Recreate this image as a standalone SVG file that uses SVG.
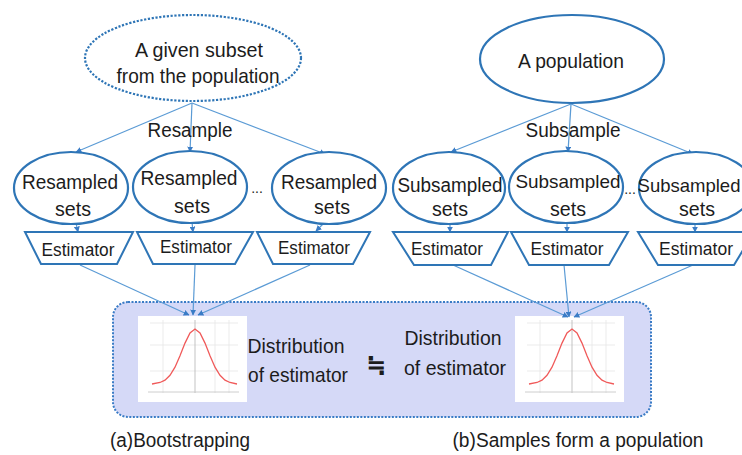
<svg xmlns="http://www.w3.org/2000/svg" width="742" height="455" viewBox="0 0 742 455">
<defs>
<style>
.t{font-family:"Liberation Sans",Arial,sans-serif;fill:#1c1c1c;text-anchor:middle;}
.big{font-size:21px;}
.mid{font-size:20px;}
.est{font-size:19px;}
.node{fill:#ffffff;stroke:#2e75b6;stroke-width:2.2;}
.dash{stroke-dasharray:2.2 1.6;}
.trap{fill:#ffffff;stroke:#2e75b6;stroke-width:2;stroke-linejoin:miter;}
.c{fill:none;stroke:#5b9bd5;stroke-width:1.2;marker-end:url(#ah);}
.grid{stroke:#e6e6e6;stroke-width:0.8;fill:none;}
</style>
<marker id="ah" viewBox="0 0 10 10" refX="9" refY="5" markerWidth="6" markerHeight="6" markerUnits="userSpaceOnUse" orient="auto">
<path d="M0,0 L10,5 L0,10 z" fill="#3a7cc6"/>
</marker>
<g id="chart">
<rect x="138" y="316" width="109" height="86" fill="#ffffff"/>
<line class="grid" x1="150" y1="323" x2="238" y2="323"/>
<line class="grid" x1="150" y1="345" x2="238" y2="345"/>
<line class="grid" x1="150" y1="371" x2="238" y2="371"/>
<line class="grid" x1="163" y1="320" x2="163" y2="393"/>
<line class="grid" x1="215" y1="320" x2="215" y2="393"/>
<line class="grid" x1="229" y1="320" x2="229" y2="393"/>
<line x1="195" y1="320" x2="195" y2="393" stroke="#bcbcbc" stroke-width="0.9"/>
<line x1="148" y1="392" x2="239" y2="392" stroke="#c8c8c8" stroke-width="0.9"/>
<polyline fill="none" stroke="#f05a5a" stroke-width="1.3" points="152,384 160,382.5 165,380.2 170,375.3 175,367.2 180,355.7 185,343.1 190,332.9 195,329 200,332.9 205,343.1 210,355.7 215,367.2 220,375.3 225,380.2 230,382.5 237,384"/>
</g>
</defs>
<rect width="742" height="455" fill="#ffffff"/>

<g id="distribution-box">
<rect x="113" y="302" width="538" height="115" rx="15" fill="#d5d9f7" stroke="#3a7cc6" stroke-width="2" stroke-dasharray="2 1.5"/>
<use href="#chart"/>
<use href="#chart" x="377"/>
<text class="t big" x="296" y="353" textLength="97" lengthAdjust="spacingAndGlyphs">Distribution</text>
<text class="t big" x="298" y="382" textLength="100" lengthAdjust="spacingAndGlyphs">of estimator</text>
<text class="t big" x="453" y="345" textLength="97" lengthAdjust="spacingAndGlyphs">Distribution</text>
<text class="t big" x="455" y="375" textLength="102" lengthAdjust="spacingAndGlyphs">of estimator</text>
<text class="t" x="376" y="373" style="font-family:'DejaVu Sans',sans-serif;font-size:24px;font-weight:bold;">≒</text>
</g>

<g id="connectors">
<line class="c" x1="192" y1="103" x2="76" y2="152"/>
<line class="c" x1="192" y1="103" x2="190" y2="152"/>
<line class="c" x1="192" y1="103" x2="325" y2="154"/>
<line class="c" x1="571" y1="104" x2="451" y2="152"/>
<line class="c" x1="571" y1="104" x2="568" y2="152"/>
<line class="c" x1="571" y1="104" x2="693" y2="154"/>
<line class="c" x1="76" y1="223" x2="78" y2="232"/>
<line class="c" x1="192" y1="222" x2="193" y2="232"/>
<line class="c" x1="324" y1="223" x2="316" y2="231"/>
<line class="c" x1="450" y1="224" x2="450" y2="232"/>
<line class="c" x1="567" y1="222" x2="567" y2="232"/>
<line class="c" x1="695" y1="223" x2="695" y2="232"/>
<line class="c" x1="80" y1="265" x2="189" y2="315"/>
<line class="c" x1="195" y1="265" x2="193" y2="315"/>
<line class="c" x1="310" y1="265" x2="198" y2="315"/>
<line class="c" x1="453" y1="265" x2="568" y2="317"/>
<line class="c" x1="564" y1="265" x2="569" y2="317"/>
<line class="c" x1="693" y1="265" x2="574" y2="317"/>
</g>

<g id="given-subset">
<ellipse class="node dash" cx="193" cy="58" rx="108" ry="43"/>
<text class="t big" x="199" y="57" textLength="128" lengthAdjust="spacingAndGlyphs">A given subset</text>
<text class="t big" x="198" y="83" textLength="163" lengthAdjust="spacingAndGlyphs">from the population</text>
</g>
<g id="population">
<ellipse class="node" cx="572" cy="59" rx="92" ry="44"/>
<text class="t big" x="571" y="68" textLength="106" lengthAdjust="spacingAndGlyphs">A population</text>
</g>

<g id="label-resample"><text class="t mid" x="190" y="137" textLength="85" lengthAdjust="spacingAndGlyphs">Resample</text></g>
<g id="label-subsample"><text class="t mid" x="573" y="137" textLength="95" lengthAdjust="spacingAndGlyphs">Subsample</text></g>

<g id="resampled-1">
<ellipse class="node" cx="71" cy="188" rx="57" ry="36"/>
<text class="t mid" x="70" y="189" textLength="96" lengthAdjust="spacingAndGlyphs">Resampled</text>
<text class="t mid" x="73" y="216" textLength="36" lengthAdjust="spacingAndGlyphs">sets</text>
</g>
<g id="resampled-2">
<ellipse class="node" cx="190" cy="187" rx="57" ry="36"/>
<text class="t mid" x="189" y="185" textLength="97" lengthAdjust="spacingAndGlyphs">Resampled</text>
<text class="t mid" x="192" y="213" textLength="36" lengthAdjust="spacingAndGlyphs">sets</text>
</g>
<g id="dots-left"><text class="t" x="257" y="193" style="font-size:14px;">...</text></g>
<g id="resampled-3">
<ellipse class="node" cx="329" cy="188" rx="57" ry="36"/>
<text class="t mid" x="329" y="189" textLength="96" lengthAdjust="spacingAndGlyphs">Resampled</text>
<text class="t mid" x="332" y="214" textLength="36" lengthAdjust="spacingAndGlyphs">sets</text>
</g>

<g id="subsampled-1">
<ellipse class="node" cx="449" cy="188" rx="56" ry="36"/>
<text class="t mid" x="450" y="192" textLength="105" lengthAdjust="spacingAndGlyphs">Subsampled</text>
<text class="t mid" x="450" y="216" textLength="36" lengthAdjust="spacingAndGlyphs">sets</text>
</g>
<g id="subsampled-2">
<ellipse class="node" cx="566" cy="187" rx="57" ry="36"/>
<text class="t" x="568" y="188" style="font-size:19px;" textLength="105" lengthAdjust="spacingAndGlyphs">Subsampled</text>
<text class="t mid" x="568" y="216" textLength="36" lengthAdjust="spacingAndGlyphs">sets</text>
</g>
<g id="dots-right"><text class="t" x="630" y="194" style="font-size:14px;">...</text></g>
<g id="subsampled-3">
<ellipse class="node" cx="696" cy="188" rx="57" ry="36"/>
<text class="t" x="689" y="192" style="font-size:18.5px;">Subsampled</text>
<text class="t mid" x="697" y="216" textLength="36" lengthAdjust="spacingAndGlyphs">sets</text>
</g>

<g id="estimator-1">
<polygon class="trap" points="25,232 133,232 117,264 41,264"/>
<text class="t est" x="78" y="256" textLength="73" lengthAdjust="spacingAndGlyphs">Estimator</text>
</g>
<g id="estimator-2">
<polygon class="trap" points="137,232 253,232 235,264 153,264"/>
<text class="t est" x="196" y="253" textLength="72" lengthAdjust="spacingAndGlyphs">Estimator</text>
</g>
<g id="estimator-3">
<polygon class="trap" points="257,232 370,232 353,264 273,264"/>
<text class="t est" x="314" y="254" textLength="72" lengthAdjust="spacingAndGlyphs">Estimator</text>
</g>
<g id="estimator-4">
<polygon class="trap" points="393,232 508,232 491,265 414,265"/>
<text class="t est" x="447" y="255" textLength="72" lengthAdjust="spacingAndGlyphs">Estimator</text>
</g>
<g id="estimator-5">
<polygon class="trap" points="511,232 628,232 609,265 529,265"/>
<text class="t est" x="567" y="255" textLength="73" lengthAdjust="spacingAndGlyphs">Estimator</text>
</g>
<g id="estimator-6">
<polygon class="trap" points="638,232 754,232 734,265 658,265"/>
<text class="t est" x="696" y="255" textLength="74" lengthAdjust="spacingAndGlyphs">Estimator</text>
</g>

<g id="captions">
<text class="t mid" x="180" y="447" textLength="140" lengthAdjust="spacingAndGlyphs">(a)Bootstrapping</text>
<text class="t mid" x="578" y="447" textLength="251" lengthAdjust="spacingAndGlyphs">(b)Samples form a population</text>
</g>
</svg>
